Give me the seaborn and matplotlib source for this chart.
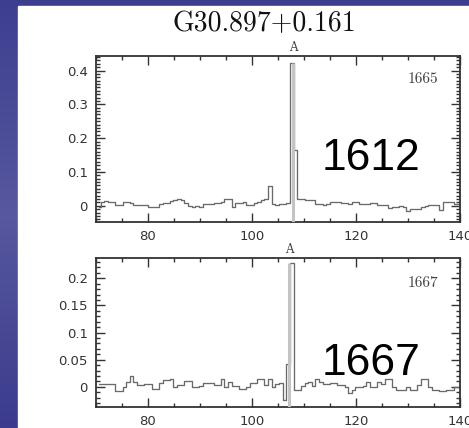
import numpy as np
import pandas as pd
import matplotlib
matplotlib.use('Agg')
import matplotlib.pyplot as plt
from matplotlib.colors import LinearSegmentedColormap
from matplotlib.patches import Rectangle
from matplotlib.ticker import MultipleLocator
import seaborn as sns

# channel grid (km/s)
chan_start = 70.2
chan_width = 0.7

# 1665 MHz spectrum (Jy), one value per channel
flux_1665 = [
    -0.003, 0.012, 0.013, 0.011, 0.012, 0.003, 0.001, 0.012, 0.011, 0.008,
    0.003, 0.002, 0.003, 0.001, -0.004, -0.005, -0.003, 0.006, 0.007, 0.008,
    0.014, 0.016, 0.019, 0.017, 0.007, -0.002, -0.003, -0.002, -0.004, 0.004,
    0.005, 0.004, 0.009, 0.008, 0.010, 0.020, 0.021, -0.003, 0.009, 0.008,
    0.010, 0.003, 0.002, 0.009, 0.010, 0.018, 0.019, 0.059, 0.004, 0.002,
    0.004, 0.006, 0.008, 0.422, 0.165, 0.019, 0.019, 0.017, 0.018, 0.016,
    0.004, 0.004, 0.003, 0.005, 0.010, 0.010, 0.011, 0.007, 0.007, 0.006,
    0.010, 0.011, 0.005, 0.004, 0.005, 0.009, 0.008, 0.002, 0.002, 0.001,
    -0.006, -0.003, -0.003, -0.002, -0.003, -0.015, -0.011, -0.010, -0.011, -0.003,
    -0.002, 0.002, 0.001, 0.003, -0.013, 0.010, 0.012, 0.011, 0.005, 0.004,
]

# 1667 MHz spectrum (Jy)
flux_1667 = [
    0.006, 0.005, 0.005, 0.006, 0.005, -0.007, -0.007, 0.000, 0.009, 0.020,
    0.009, 0.003, 0.003, 0.006, 0.006, -0.003, -0.003, 0.007, 0.012, 0.012,
    0.015, -0.001, 0.003, 0.003, 0.011, 0.011, 0.000, 0.000, 0.001, 0.008,
    0.008, 0.007, 0.004, 0.004, 0.015, 0.000, 0.009, 0.001, 0.001, -0.003,
    -0.003, 0.000, 0.007, 0.008, 0.014, 0.014, 0.003, 0.014, 0.000, 0.005,
    0.008, -0.024, 0.042, 0.228, -0.005, -0.005, 0.002, 0.007, 0.009, 0.001,
    0.015, 0.009, 0.006, 0.006, 0.007, 0.007, 0.003, 0.003, 0.000, -0.012,
    -0.005, 0.000, 0.000, 0.001, 0.009, 0.000, 0.000, 0.009, 0.006, 0.014,
    0.014, -0.001, -0.005, -0.005, -0.005, 0.000, -0.005, -0.005, 0.003, 0.014,
    0.014, 0.000, -0.005, -0.005, -0.007, -0.007, -0.005, -0.005, 0.000, 0.000,
]

# velocity of the "A" feature markers
marker_vel = [107.95, 107.2]
panel_labels = ['1665', '1667']
big_labels = ['1612', '1667']
title = 'G30.897+0.161'

n = len(flux_1665)
vel = chan_start + chan_width * (np.arange(n) + 0.5)
df = pd.DataFrame({'vel': vel, 'f1665': flux_1665, 'f1667': flux_1667})

sns.set_style('ticks')
plt.rcParams['font.family'] = ['DejaVu Sans']

W, H = 469, 428
fig = plt.figure(figsize=(W / 100, H / 100), dpi=100)

# slide background: blue gradient strip with white panel
bg = fig.add_axes([0, 0, 1, 1], zorder=-10)
grad = np.linspace(0, 1, 256).reshape(-1, 1)
cmap = LinearSegmentedColormap.from_list('slide', ['#3c3b8d', '#57589f', '#3d3e8f'])
bg.imshow(grad, aspect='auto', cmap=cmap, extent=[0, 1, 0, 1], origin='lower')
bg.add_patch(Rectangle((18 / W, 0), 1, 1 - 6 / H, color='white', zorder=2))
bg.set_xlim(0, 1)
bg.set_ylim(0, 1)
bg.axis('off')

ax1 = fig.add_axes([96 / W, 1 - 222 / H, 364 / W, 166 / H])
ax2 = fig.add_axes([96 / W, 1 - 407 / H, 364 / W, 149.3 / H])

cols = ['f1665', 'f1667']
ylims = [(-0.048, 0.443), (-0.037, 0.238)]
ymaj = [0.1, 0.05]
ymin_loc = [0.01, 0.01]
yfmt = [lambda v: '0' if abs(v) < 1e-9 else f'{v:.1f}',
        lambda v: '0' if abs(v) < 1e-9 else f'{v:g}']

for i, ax in enumerate([ax1, ax2]):
    ax.set_facecolor('none')
    sns.lineplot(data=df, x='vel', y=cols[i], ax=ax, drawstyle='steps-mid',
                 color='#6a6a6a', lw=0.95)
    peak = df[cols[i]].max()
    ax.vlines(marker_vel[i], ylims[i][0], peak, color='#c4c4c4', lw=2.2, zorder=3)
    ax.set_xlim(70, 140)
    ax.set_ylim(*ylims[i])
    ax.set_xlabel('')
    ax.set_ylabel('')
    ax.xaxis.set_major_locator(MultipleLocator(20))
    ax.xaxis.set_minor_locator(MultipleLocator(5))
    ax.yaxis.set_major_locator(MultipleLocator(ymaj[i]))
    ax.yaxis.set_minor_locator(MultipleLocator(ymin_loc[i]))
    ticks = [t for t in np.arange(0, ylims[i][1], ymaj[i])]
    ax.set_yticks(ticks)
    ax.set_yticklabels([yfmt[i](t) for t in ticks])
    ax.tick_params(which='both', direction='in', top=True, right=True,
                   color='#333333', width=1.0)
    ax.tick_params(which='major', length=6.5, labelsize=9.5, labelcolor='#333333', pad=6)
    ax.tick_params(which='minor', length=3)
    for s in ax.spines.values():
        s.set_color('#333333')
        s.set_linewidth(1.3)
    ax.text(0.94, 0.86 if i == 0 else 0.83, panel_labels[i], transform=ax.transAxes,
            ha='right', va='center', fontsize=11, family='cmr10', color='#444444')
    ax.text(marker_vel[i], 1.012, 'A', transform=ax.get_xaxis_transform(),
            ha='center', va='bottom', fontsize=8.5, family='DejaVu Serif', color='#444444')

fig.text(264 / W, 1 - 23.5 / H, title, ha='center', va='center',
         fontsize=20, family='cmr10', color='#111111')
fig.text(322 / W, 1 - 170 / H, big_labels[0], ha='left', va='baseline',
         fontsize=32, family='Liberation Sans', color='black')
fig.text(322 / W, 1 - 375 / H, big_labels[1], ha='left', va='baseline',
         fontsize=32, family='Liberation Sans', color='black')

fig.savefig('out.png', dpi=100)
